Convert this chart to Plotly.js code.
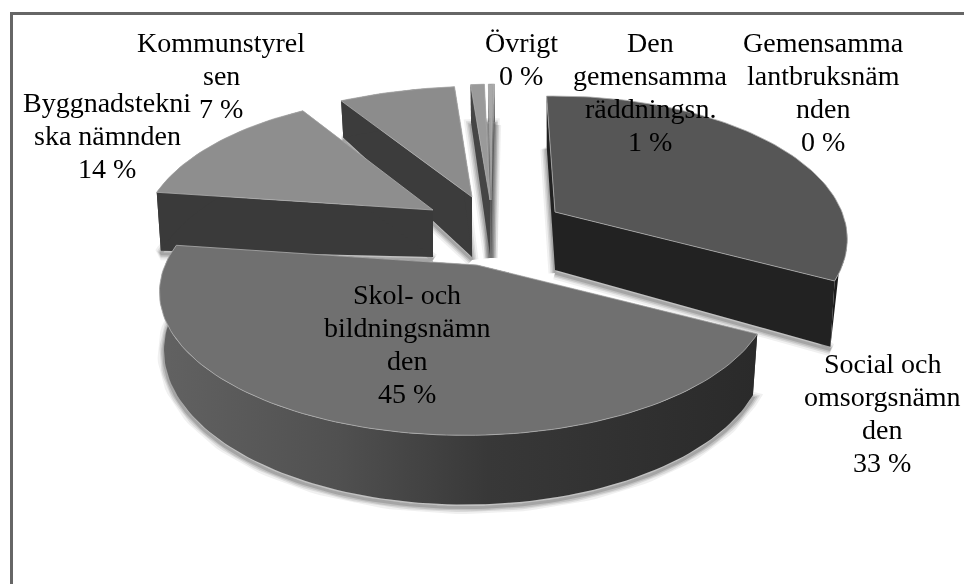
<!DOCTYPE html>
<html>
<head>
<meta charset="utf-8">
<script src="https://cdn.plot.ly/plotly-3.0.1.min.js"></script>
<style>html,body{margin:0;padding:0;background:#fff}#chart{width:964px;height:584px;filter:blur(0.4px)}</style>
</head>
<body>
<div id="chart"></div>
<script>
// ---- data (clockwise from the top of the pie) ----
const categories = ["Social och omsorgsnämnden","Skol- och bildningsnämnden","Byggnadstekniska nämnden","Kommunstyrelsen","Den gemensamma räddningsn.","Övrigt","Gemensamma lantbruksnämnden"];
const shares = [33.1, 44.8, 13.9, 6.9, 0.9, 0.3, 0.1];
const labelLines = [["Social och","omsorgsnämn","den"],["Skol- och","bildningsnämn","den"],["Byggnadstekni","ska nämnden"],["Kommunstyrel","sen"],["Den","gemensamma","räddningsn."],["Övrigt"],["Gemensamma","lantbruksnäm","nden"]];

// ---- drawing configuration ----
const startAngle = -2, ry = 138, persp = 0.19, footScale = 0.985, lineStep = 33;
const labelX = [882, 407, 107, 221, 650, 521, 823];
const labelY = [363, 294, 102, 42, 42, 42, 42];
const paintOrder = [6, 5, 4, 3, 2, 0, 1];
const arcCentre = [[555,212],[465,265],[431,212],[486,202],[499,200],[503,200],[503,200]];
const apex      = [[555,212],[477,265],[433,210],[472,197],[490,200],[491,200],[491,200]];
const radiusX   = [287, 300, 285, 322, 290, 290, 290];
const rimDepth  = [60, 56, 60, 43, 45, 45, 45];
const apexDepth = [58, 60, 47, 60, 55, 55, 55];
const wallFrom  = [92, -360, -360, -360, -360, -360, -360];
const topColour = ["#565656","#707070","#8e8e8e","#8c8c8c","#9a9a9a","#a8a8a8","#a8a8a8"];
const cutColour = ["#222222","#404040","#3a3a3a","#3c3c3c","#454545","#505050","#505050"];
const arcColour = ["#1c1c1c","#404040","#3a3a3a","#3c3c3c","#454545","#505050","#505050"];

const total = shares.reduce((a, b) => a + b, 0);
const spans = []; let acc = startAngle;
shares.forEach(v => { const a0 = acc; acc += v / total * 360; spans.push([a0, acc]); });

function rim(i, deg, depth) {
  const t = deg * Math.PI / 180, s = Math.sin(t), c = Math.cos(t), w = 1 / (1 + persp * c);
  const scale = depth ? footScale : 1;
  return [arcCentre[i][0] + radiusX[i] * s * w * scale, arcCentre[i][1] - ry * c * w + depth * w];
}
function arcAngles(i) {
  const [a, b] = spans[i], n = Math.max(2, Math.ceil((b - a) / 1.5)), out = [];
  for (let k = 0; k <= n; k++) out.push(a + (b - a) * k / n);
  return out;
}
function poly(points, colour, extra) {
  return Object.assign({type:"scatter", mode:"lines", x:points.map(p=>p[0]), y:points.map(p=>p[1]),
    fill:"toself", fillcolor:colour, line:{width:0, color:colour}, hoverinfo:"skip", showlegend:false}, extra||{});
}
const traces = [];
paintOrder.forEach(i => {
  const ang = arcAngles(i), A = apex[i], d = apexDepth[i], D = rimDepth[i];
  const topArc = ang.map(a => rim(i, a, 0)), botArc = ang.map(a => rim(i, a, D));
  const Ab = [A[0], A[1] + d];
  const r0 = topArc[0], r1 = topArc[topArc.length-1], b0 = botArc[0], b1 = botArc[botArc.length-1];
  // soft shadow round the foot of the slice
  const tapered = wallFrom[i] > -360;
  const footArc = tapered ? [b0, b1] : botArc;
  const foot = [Ab].concat(footArc, [Ab]).map(p => [p[0], p[1] + 3]);
  [[13,0.10],[9,0.16],[6,0.22],[3,0.32]].forEach(([wd, op]) => traces.push({type:"scatter", mode:"lines",
    x:foot.map(p=>p[0]), y:foot.map(p=>p[1]), line:{width:wd, color:"#6a6a6a"}, opacity:op, hoverinfo:"skip", showlegend:false}));
  // cut faces
  traces.push(poly([A, r0, b0, Ab, A], cutColour[i]));
  traces.push(poly([A, r1, b1, Ab, A], cutColour[i]));
  // outer wall (the first slice's wall narrows to its front corner)
  const wall = tapered
    ? ang.filter(a => a >= wallFrom[i]).map(a => rim(i, a, 0)).concat([b1])
    : topArc.concat(botArc.slice().reverse(), [topArc[0]]);
  if (tapered) wall.push(wall[0]);
  const extra = i === 1 ? {fillgradient:{type:"horizontal", colorscale:[[0,"#626262"],[0.3,"#505050"],[0.55,"#383838"],[1,"#2a2a2a"]]}} : {};
  traces.push(poly(wall, arcColour[i], extra));
  // top face
  traces.push(poly([A].concat(topArc, [A]), topColour[i], {line:{width:0.8, color:"#adadad"}}));
});

const annotations = [];
categories.forEach((c, i) => {
  labelLines[i].concat([Math.round(shares[i] / total * 100) + " %"]).forEach((txt, k) => annotations.push({
    xref:"x", yref:"y", x:labelX[i], y:labelY[i] + k * lineStep, xanchor:"center", yanchor:"middle", showarrow:false,
    align:"center", text:txt, font:{family:"Liberation Serif", size:28, color:"#000"}
  }));
});

Plotly.newPlot("chart", traces, {
  width:964, height:584, margin:{l:0,r:0,t:0,b:0}, paper_bgcolor:"#fff", plot_bgcolor:"#fff", showlegend:false,
  xaxis:{range:[0,964], visible:false, fixedrange:true},
  yaxis:{range:[584,0], visible:false, fixedrange:true},
  annotations,
  shapes:[
    {type:"line", xref:"x", yref:"y", x0:11.5, x1:11.5, y0:12, y1:584, line:{color:"#666", width:3}},
    {type:"line", xref:"x", yref:"y", x0:10, x1:964, y0:13.5, y1:13.5, line:{color:"#666", width:3}}
  ]
}, {staticPlot:true, displayModeBar:false});
</script>
</body>
</html>
